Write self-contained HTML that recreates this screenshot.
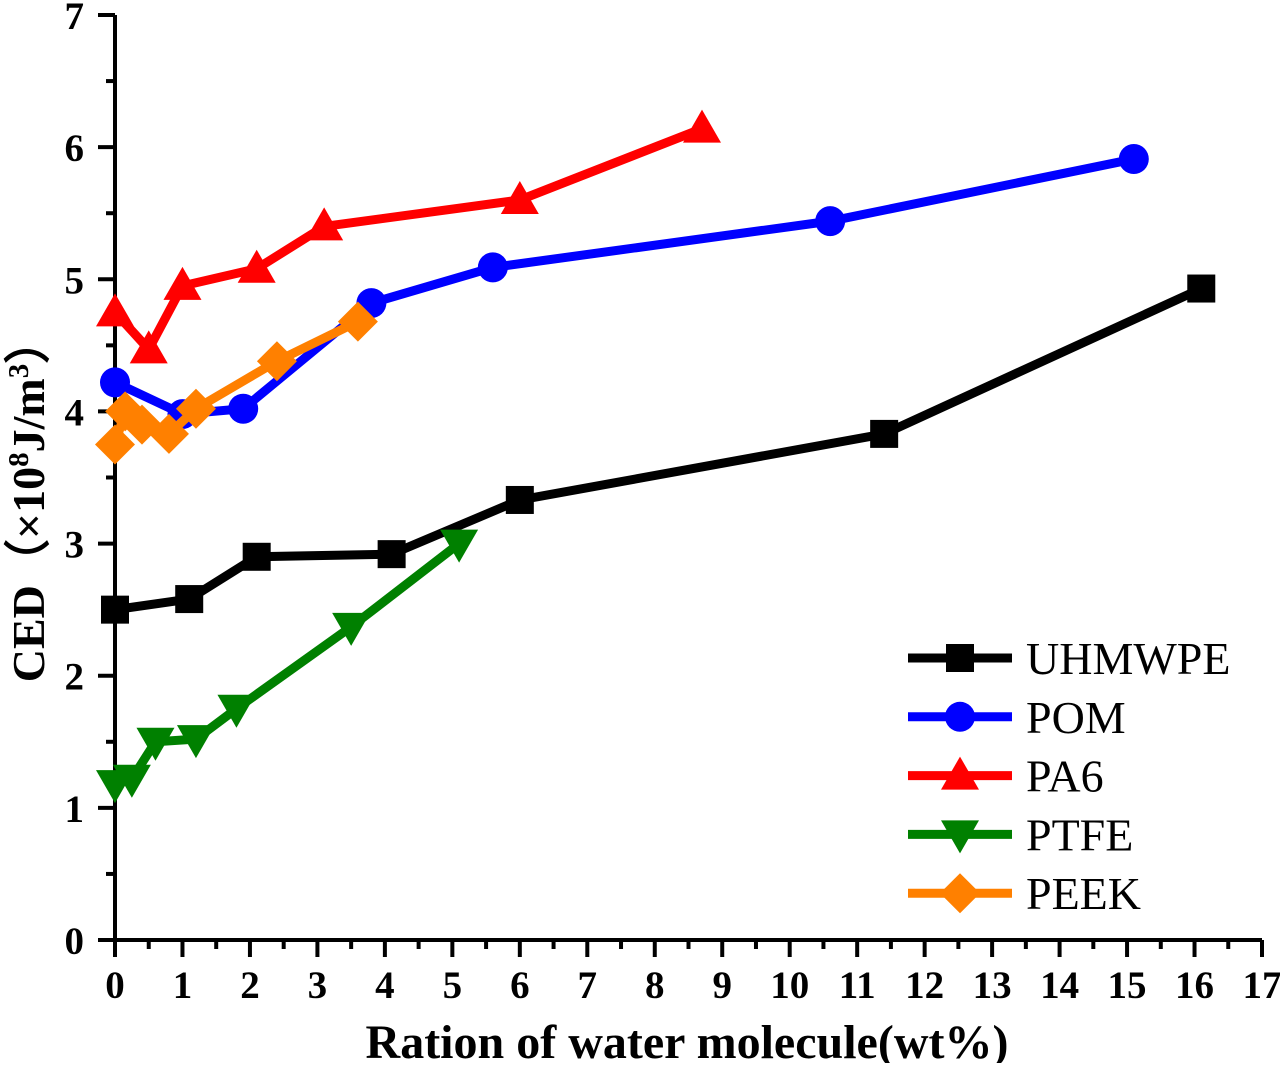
<!DOCTYPE html>
<html><head><meta charset="utf-8"><style>
html,body{margin:0;padding:0;background:#fff;}
svg text{font-family:"Liberation Serif",serif;}
</style></head><body>
<svg id="chart" width="1280" height="1063" xmlns="http://www.w3.org/2000/svg"></svg>
<script>
const xTicks=[0,1,2,3,4,5,6,7,8,9,10,11,12,13,14,15,16,17];
const yTicks=[0,1,2,3,4,5,6,7];
const seriesNames=["UHMWPE","POM","PA6","PTFE","PEEK"];
const seriesColors=["#000000","#0000ff","#ff0000","#008000","#ff8000"];
const uhmwpeX=[0,1.1,2.1,4.1,6,11.4,16.1];
const uhmwpeY=[2.5,2.58,2.9,2.92,3.33,3.83,4.93];
const pomX=[0,1,1.9,3.8,5.6,10.6,15.1];
const pomY=[4.22,3.98,4.02,4.82,5.09,5.44,5.91];
const pa6X=[0,0.5,1,2.1,3.1,6,8.7];
const pa6Y=[4.75,4.47,4.95,5.08,5.4,5.6,6.14];
const ptfeX=[0,0.25,0.6,1.2,1.8,3.5,5.1];
const ptfeY=[1.18,1.22,1.5,1.52,1.75,2.37,3.0];
const peekX=[0,0.15,0.4,0.8,1.2,2.4,3.6];
const peekY=[3.75,4.0,3.9,3.83,4.02,4.38,4.68];

const NS="http://www.w3.org/2000/svg";
const svg=document.getElementById('chart');
const X0=115,X1=1262,Y0=940,Y1=15;
const sx=v=>X0+(v-0)/(17-0)*(X1-X0);
const sy=v=>Y0-(v-0)/(7-0)*(Y0-Y1);
function mk(tag,attrs,parent){const e=document.createElementNS(NS,tag);for(const k in attrs)e.setAttribute(k,attrs[k]);(parent||svg).appendChild(e);return e;}

const axes=mk('g',{});


const xl=mk('line',{x1:X0-8,y1:Y0,x2:X1,y2:Y0,stroke:'#000','stroke-width':4},axes);


const yl=mk('line',{x1:X0,y1:Y0+2,x2:X0,y2:Y1,stroke:'#000','stroke-width':4},axes);


xTicks.forEach((t,i)=>{
  const x=sx(t);
  mk('line',{x1:x,y1:Y0,x2:x,y2:Y0+17,stroke:'#000','stroke-width':4},axes);
  if(i<xTicks.length-1){mk('line',{x1:sx(t+0.5),y1:Y0,x2:sx(t+0.5),y2:Y0+9,stroke:'#000','stroke-width':4},axes);}
  const tx=mk('text',{x:x,y:Y0+58,'text-anchor':'middle','font-size':39,'font-weight':'bold'},axes);
  tx.textContent=t;
  
  
});
yTicks.forEach((t,i)=>{
  const y=sy(t);
  mk('line',{x1:X0,y1:y,x2:X0-17,y2:y,stroke:'#000','stroke-width':4},axes);
  if(i<yTicks.length-1){mk('line',{x1:X0,y1:sy(t+0.5),x2:X0-9,y2:sy(t+0.5),stroke:'#000','stroke-width':4},axes);}
  const ty=mk('text',{x:84,y:y+14,'text-anchor':'end','font-size':39,'font-weight':'bold'},axes);
  ty.textContent=t;
  
  
});
const xt=mk('text',{x:687,y:1058,'text-anchor':'middle','font-size':48,'font-weight':'bold'});
xt.textContent='Ration of water molecule(wt%)';


const yt=mk('text',{x:0,y:0,'text-anchor':'middle','font-size':46,'font-weight':'bold',transform:'translate(44,500) rotate(-90)'});
yt.innerHTML='CED（×10<tspan dy="-16" font-size="29">8</tspan><tspan dy="16">J/m</tspan><tspan dy="-16" font-size="29">3</tspan><tspan dy="16">）</tspan>';



function marker(kind,cx,cy,color,parent){
  if(kind==='square')return mk('rect',{x:cx-14,y:cy-14,width:28,height:28,fill:color},parent);
  if(kind==='circle')return mk('circle',{cx:cx,cy:cy,r:15,fill:color},parent);
  if(kind==='up')return mk('polygon',{points:`${cx},${cy-19} ${cx+19},${cy+14} ${cx-19},${cy+14}`,fill:color},parent);
  if(kind==='down')return mk('polygon',{points:`${cx},${cy+19} ${cx+19},${cy-14} ${cx-19},${cy-14}`,fill:color},parent);
  return mk('polygon',{points:`${cx},${cy-20} ${cx+20},${cy} ${cx},${cy+20} ${cx-20},${cy}`,fill:color},parent);
}
const kinds=['square','circle','up','down','diamond'];
const allX=[uhmwpeX,pomX,pa6X,ptfeX,peekX];
const allY=[uhmwpeY,pomY,pa6Y,ptfeY,peekY];
const order=[0,3,1,4,2];
order.forEach(s=>{
  const g=mk('g',{});
  
  
  const pts=allX[s].map((x,i)=>sx(x)+','+sy(allY[s][i])).join(' ');
  const pl=mk('polyline',{points:pts,fill:'none',stroke:seriesColors[s],'stroke-width':9},g);
  
  
  allX[s].forEach((x,i)=>{
    const m=marker(kinds[s],sx(x),sy(allY[s][i]),seriesColors[s],g);
    
    
  });
});
const lg=mk('g',{});


seriesNames.forEach((n,i)=>{
  const y=658+i*58.8;
  const e=mk('g',{},lg);
  
  
  mk('line',{x1:908,y1:y,x2:1012,y2:y,stroke:seriesColors[i],'stroke-width':9},e);
  marker(kinds[i],960,y,seriesColors[i],e);
  const t=mk('text',{x:1026,y:y+16,'font-size':46},e);
  t.textContent=n;
});
</script>
</body></html>
